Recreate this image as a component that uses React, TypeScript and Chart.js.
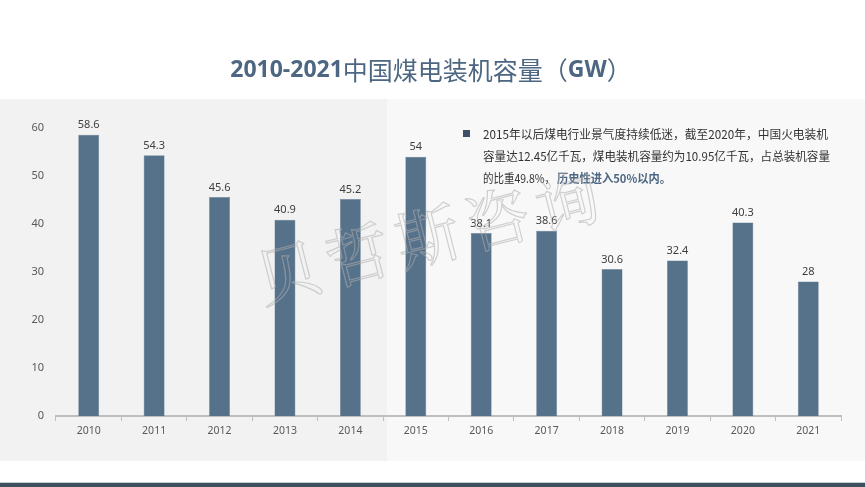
import React, { useEffect, useRef } from "react";
import { Chart, registerables } from "chart.js";

Chart.register(...registerables);

const categories = ["2010", "2011", "2012", "2013", "2014", "2015", "2016", "2017", "2018", "2019", "2020", "2021"];
const capacityGW = [58.6, 54.3, 45.6, 40.9, 45.2, 54, 38.1, 38.6, 30.6, 32.4, 40.3, 28];
const yMin = 0;
const yMax = 60;
const yStep = 10;
const titleParts = [
  { text: "2010-2021", bold: true },
  { text: "中国煤电装机容量（", bold: false },
  { text: "GW", bold: true },
  { text: "）", bold: false },
];
const noteLines = [
  "2015年以后煤电行业景气度持续低迷，截至2020年，中国火电装机",
  "容量达12.45亿千瓦，煤电装机容量约为10.95亿千瓦，占总装机容量",
];
const noteLastPlain = "的比重49.8%，";
const noteLastEmph = "历史性进入50%以内。";
const watermark = ["贝", "哲", "斯", "咨", "询"];

const BAR = "#56718a";
const TITLE = "#4d6782";

const decorPlugin = {
  id: "decor",
  beforeDraw(chart: any) {
    const ctx = chart.ctx;
    ctx.save();
    ctx.fillStyle = "#ffffff";
    ctx.fillRect(0, 0, 865, 487);
    ctx.fillStyle = "#f2f2f2";
    ctx.fillRect(0, 99, 387, 362);
    ctx.fillStyle = "#f8f8f8";
    ctx.fillRect(387, 99, 478, 362);
    ctx.fillStyle = "#3e4f5f";
    ctx.fillRect(0, 483, 865, 4);
    ctx.fillStyle = "#c9ced3";
    ctx.fillRect(0, 482, 865, 1);

    // title
    const cjk = "'Noto Sans CJK SC'";
    const fonts = titleParts.map((p) =>
      p.bold ? "bold 23px 'Open Sans', " + cjk : "25px " + cjk
    );
    let total = 0;
    const widths = titleParts.map((p, i) => {
      ctx.font = fonts[i];
      const w = ctx.measureText(p.text).width;
      total += w;
      return w;
    });
    let x = 431 - total / 2;
    ctx.fillStyle = TITLE;
    ctx.textBaseline = "middle";
    ctx.textAlign = "left";
    titleParts.forEach((p, i) => {
      ctx.font = fonts[i];
      ctx.fillText(p.text, x, 70);
      x += widths[i];
    });
    ctx.restore();
  },
  afterDatasetsDraw(chart: any) {
    const ctx = chart.ctx;
    ctx.save();
    // value labels
    const meta = chart.getDatasetMeta(0);
    ctx.font = "11px 'Noto Sans', sans-serif";
    ctx.fillStyle = "#404040";
    ctx.textAlign = "center";
    ctx.textBaseline = "bottom";
    meta.data.forEach((bar: any, i: number) => {
      ctx.fillText(String(capacityGW[i]), bar.x, bar.y - 4);
    });

    // note
    ctx.fillStyle = "#3d5166";
    ctx.fillRect(463, 130, 7, 7);
    ctx.textAlign = "left";
    ctx.textBaseline = "middle";
    ctx.font = "12px 'Noto Sans CJK SC'";
    ctx.fillStyle = "#333333";
    ctx.fillText(noteLines[0], 483, 134, 345);
    ctx.fillText(noteLines[1], 483, 156, 347);
    ctx.fillText(noteLastPlain, 483, 178, 72);
    ctx.font = "bold 12px 'Noto Sans CJK SC'";
    ctx.fillStyle = "#4d6782";
    ctx.fillText(noteLastEmph, 557, 178, 114);

    // watermark
    const start = { x: 288, y: 272 };
    const ang = -0.25;
    const step = 72;
    ctx.font = "64px 'Noto Serif CJK SC', 'Noto Sans CJK SC'";
    ctx.strokeStyle = "rgba(175,175,175,0.55)";
    ctx.lineWidth = 1.2;
    ctx.textAlign = "center";
    ctx.textBaseline = "middle";
    watermark.forEach((ch, i) => {
      ctx.save();
      ctx.translate(start.x + Math.cos(ang) * step * i, start.y + Math.sin(ang) * step * i);
      ctx.rotate(ang);
      ctx.strokeText(ch, 0, 0);
      ctx.restore();
    });
    ctx.restore();
  },
};

export default function App() {
  const ref = useRef<HTMLCanvasElement | null>(null);
  useEffect(() => {
    if (!ref.current) return;
    const chart = new Chart(ref.current, {
      type: "bar",
      data: {
        labels: categories,
        datasets: [
          {
            data: capacityGW,
            backgroundColor: BAR,
            borderColor: "#6a8399",
            borderWidth: 0.5,
            categoryPercentage: 1,
            barPercentage: 0.32,
          },
        ],
      },
      options: {
        responsive: false,
        animation: false,
        devicePixelRatio: 1,
        layout: { padding: { top: 128, right: 24, left: 0, bottom: 0 } },
        plugins: {
          legend: { display: false },
          title: { display: false },
          tooltip: { enabled: false },
        },
        scales: {
          x: {
            grid: {
              display: true,
              drawOnChartArea: false,
              drawTicks: true,
              tickLength: 5,
              color: "#bfbfbf",
              lineWidth: 1,
              offset: true,
            },
            border: { display: true, color: "#bfbfbf", width: 2 },
            ticks: {
              color: "#595959",
              font: { size: 10.5, family: "'Noto Sans', sans-serif" },
              padding: 4,
              maxRotation: 0,
            },
            afterFit: (s: any) => {
              s.height = 71;
            },
          },
          y: {
            min: yMin,
            max: yMax,
            ticks: {
              stepSize: yStep,
              color: "#595959",
              font: { size: 11, family: "'Noto Sans', sans-serif" },
              padding: 12,
            },
            grid: { display: false, drawTicks: false },
            border: { display: false },
            afterFit: (s: any) => {
              s.width = 56;
            },
          },
        },
      },
      plugins: [decorPlugin],
    });
    return () => chart.destroy();
  }, []);
  return (
    <div style={{ position: "absolute", left: 0, top: 0, width: 865, height: 487 }}>
      <canvas ref={ref} width={865} height={487} style={{ display: "block" }} />
    </div>
  );
}
